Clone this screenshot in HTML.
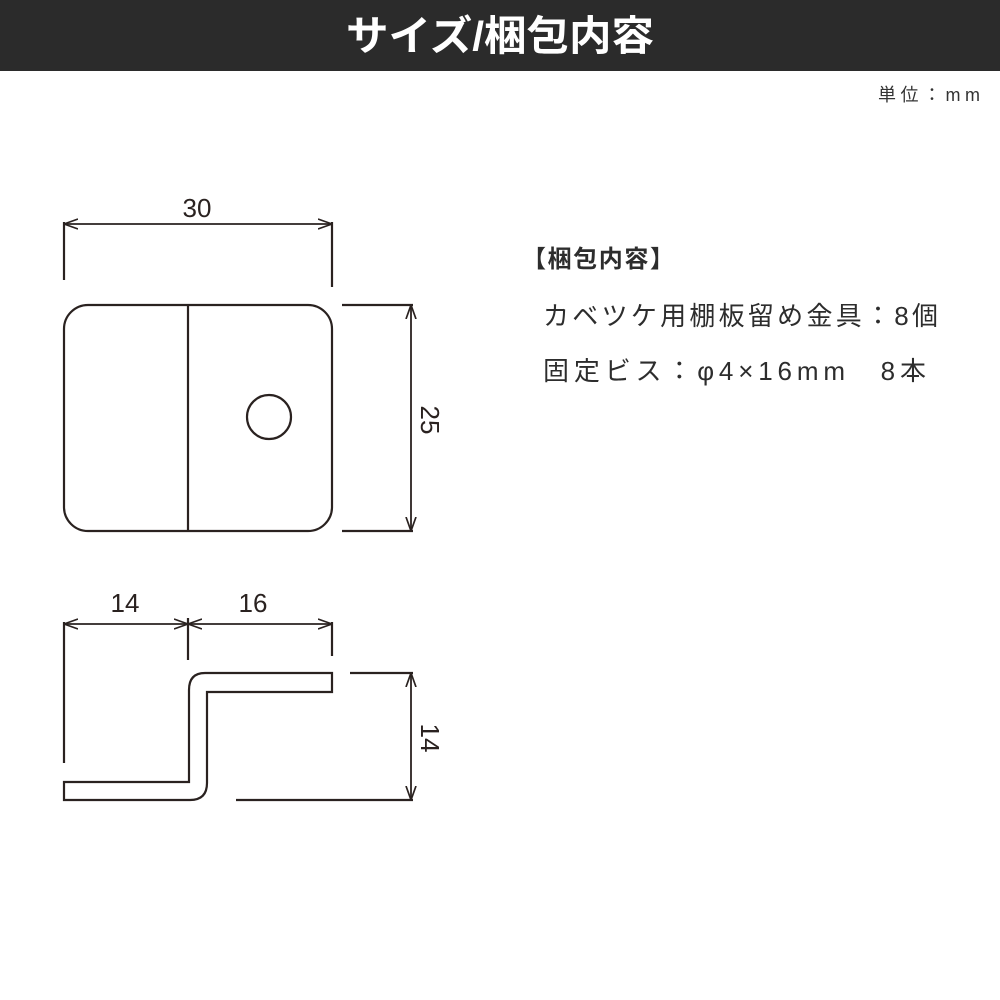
<!DOCTYPE html>
<html><head><meta charset="utf-8"><style>
html,body{margin:0;padding:0;background:#fff;}
svg{display:block}
</style></head><body>
<svg width="1000" height="1000" viewBox="0 0 1000 1000" xmlns="http://www.w3.org/2000/svg" font-family="'Liberation Sans','Noto Sans CJK JP',sans-serif">
<defs>
<marker id="a" viewBox="0 0 15 12" refX="14" refY="6" markerWidth="15" markerHeight="12" orient="auto-start-reverse" markerUnits="userSpaceOnUse">
<path d="M0,1 L14,6 L0,11" fill="none" stroke="#2a2220" stroke-width="1.7"/>
</marker>
</defs>
<rect x="0" y="0" width="1000" height="71" fill="#2b2b2b"/>
<text x="500" y="50" text-anchor="middle" fill="#fff" font-size="41" font-weight="bold" textLength="308" lengthAdjust="spacingAndGlyphs">サイズ/梱包内容</text>
<text x="980" y="101" text-anchor="end" fill="#333" font-size="18" textLength="102" lengthAdjust="spacing">単位：mm</text>

<g stroke="#2a2220" stroke-width="2.2" fill="none">
<rect x="64" y="305" width="268" height="226" rx="24"/>
<line x1="188" y1="305" x2="188" y2="531"/>
<circle cx="269" cy="417" r="22"/>
<line x1="64" y1="224" x2="332" y2="224" marker-start="url(#a)" marker-end="url(#a)" stroke-width="1.8"/>
<line x1="64" y1="222" x2="64" y2="280"/>
<line x1="332" y1="222" x2="332" y2="287"/>
<line x1="411" y1="305" x2="411" y2="531" marker-start="url(#a)" marker-end="url(#a)" stroke-width="1.8"/>
<line x1="342" y1="305" x2="413" y2="305"/>
<line x1="342" y1="531" x2="413" y2="531"/>
<line x1="64" y1="624" x2="188" y2="624" marker-start="url(#a)" marker-end="url(#a)" stroke-width="1.8"/>
<line x1="188" y1="624" x2="332" y2="624" marker-start="url(#a)" marker-end="url(#a)" stroke-width="1.8"/>
<line x1="64" y1="622" x2="64" y2="763"/>
<line x1="188" y1="618" x2="188" y2="660"/>
<line x1="332" y1="622" x2="332" y2="656"/>
<path d="M64,782 L64,800 L190,800 Q207,800 207,783 L207,692 L332,692 L332,673 L205,673 Q189,673 189,690 L189,782 Z"/>
<line x1="411" y1="673" x2="411" y2="800" marker-start="url(#a)" marker-end="url(#a)" stroke-width="1.8"/>
<line x1="350" y1="673" x2="413" y2="673"/>
<line x1="236" y1="800" x2="413" y2="800"/>
</g>
<g fill="#2a2220" font-size="26">
<text x="197" y="217" text-anchor="middle">30</text>
<text x="125" y="612" text-anchor="middle">14</text>
<text x="253" y="612" text-anchor="middle">16</text>
<text transform="translate(421,420) rotate(90)" text-anchor="middle">25</text>
<text transform="translate(421,738) rotate(90)" text-anchor="middle">14</text>
</g>
<g fill="#2d2d2d">
<text x="522" y="267" font-size="24" font-weight="bold" textLength="152" lengthAdjust="spacing">【梱包内容】</text>
<text x="543" y="325" font-size="26" textLength="395" lengthAdjust="spacing">カベツケ用棚板留め金具：8個</text>
<text x="543" y="380" font-size="26" textLength="383" lengthAdjust="spacing">固定ビス：φ4×16mm　8本</text>
</g>
</svg>
</body></html>
